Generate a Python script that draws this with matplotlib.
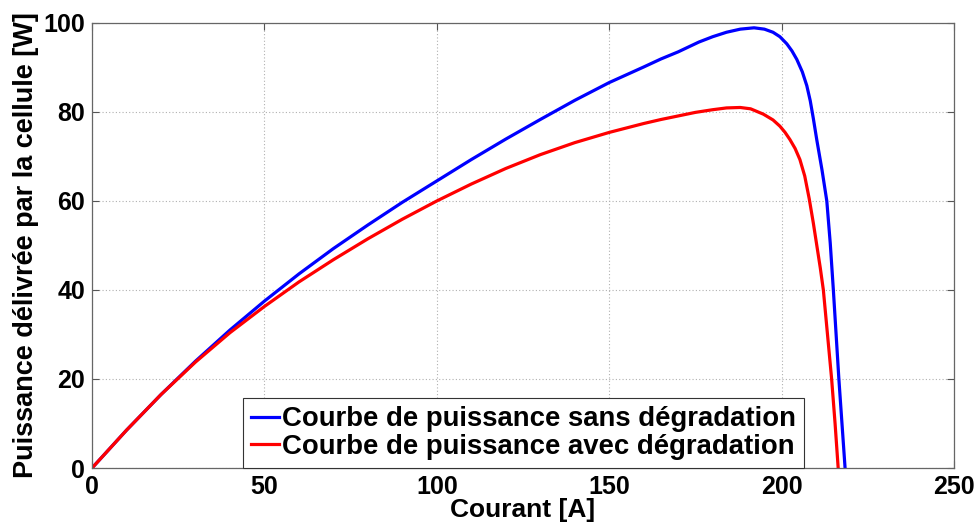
import matplotlib.pyplot as plt
import numpy as np

# Courbe sans dégradation (bleue)
i_sans = [0, 10, 20, 30, 40, 50, 60, 70, 80, 90, 100, 110, 120, 130, 140, 150,
          160, 165, 170, 176, 180, 184, 188, 192, 195, 197.5, 199.5, 201.5, 203,
          204.4, 206, 207.3, 208.3, 209.2, 210.2, 211.7, 213.1, 214.1, 215, 215.8,
          216.6, 217.5, 218.4]
p_sans = [0, 8.5, 16.5, 24.0, 31.0, 37.5, 43.6, 49.3, 54.6, 59.7, 64.5, 69.3,
          73.9, 78.3, 82.6, 86.6, 90.1, 91.9, 93.5, 95.7, 96.9, 97.9, 98.6, 98.9,
          98.6, 97.9, 96.9, 95.3, 93.7, 91.8, 89.0, 85.9, 82.5, 78.5, 73.7, 67, 60,
          50.5, 40, 30, 20, 10, 0]

# Courbe avec dégradation (rouge)
i_avec = [0, 10, 20, 30, 40, 50, 60, 70, 80, 90, 100, 110, 120, 130, 140, 150,
          160, 165, 170, 175, 180, 184, 188, 191, 194.7, 197.5, 199.5, 201, 202.4,
          203.9, 205.3, 206.7, 208, 209.2, 210.2, 211.2, 212.1, 213.3, 214.5, 215.5,
          216.4]
p_avec = [0, 8.5, 16.5, 23.8, 30.4, 36.3, 41.8, 46.8, 51.5, 55.9, 60.0, 63.8,
          67.3, 70.4, 73.1, 75.4, 77.4, 78.3, 79.1, 79.9, 80.5, 80.9, 81.0, 80.7,
          79.5, 78.2, 76.8, 75.4, 73.8, 71.8, 69.3, 65.6, 60.5, 55, 50, 45, 40, 30,
          20, 10, 0]

xticks = [0, 50, 100, 150, 200, 250]
yticks = [0, 20, 40, 60, 80, 100]

plt.rcParams['font.family'] = ['Liberation Sans', 'DejaVu Sans']
plt.rcParams['font.weight'] = 'bold'

fig = plt.figure(figsize=(9.79, 5.28), dpi=100)
ax = fig.add_axes([0.094, 0.1136, 0.8805, 0.843])

ax.plot(i_sans, p_sans, color='#0000ff', lw=2.3, label='Courbe de puissance sans dégradation')
ax.plot(i_avec, p_avec, color='#ff0000', lw=2.3, label='Courbe de puissance avec dégradation')

ax.set_xlim(0, 250)
ax.set_ylim(0, 100)
ax.set_xticks(xticks)
ax.set_yticks(yticks)
ax.grid(True, color='#b0b0b0', linestyle=(0, (1, 2)), lw=0.8)
ax.tick_params(direction='in', top=True, right=True, length=5, color='#555555',
               labelsize=18, pad=5)
for s in ax.spines.values():
    s.set_color('#666666')
    s.set_linewidth(0.9)

ax.set_xlabel('Courant [A]', fontsize=19, fontweight='bold', labelpad=-1)
ax.set_ylabel('Puissance délivrée par la cellule [W]', fontsize=19.5, fontweight='bold', labelpad=3)

leg = ax.legend(loc='lower left', bbox_to_anchor=(0.175, 0), borderaxespad=0,
                fontsize=19.8, handlelength=1.0, handletextpad=0.12,
                borderpad=0.3, labelspacing=0.05, fancybox=False,
                framealpha=1, edgecolor='#333333')
leg.get_frame().set_linewidth(0.8)

plt.savefig('out.png', dpi=100)
